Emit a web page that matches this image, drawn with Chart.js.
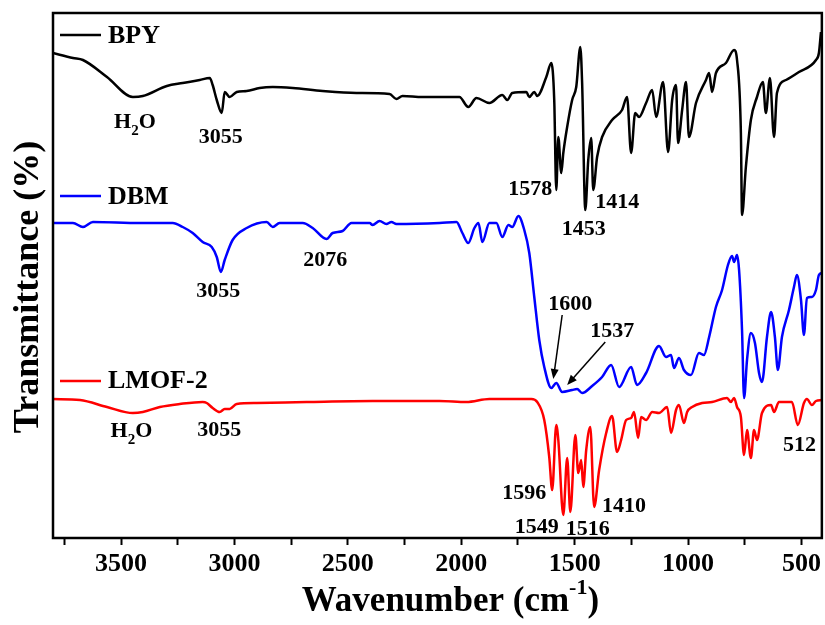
<!DOCTYPE html>
<html>
<head>
<meta charset="utf-8">
<script src="https://cdn.jsdelivr.net/npm/chart.js@4.4.1/dist/chart.umd.min.js"></script>
<style>
  html, body { margin: 0; padding: 0; background: #fff; }
</style>
</head>
<body>
<canvas id="ftirChart" width="825" height="625"></canvas>
<script>
// wavenumber (cm-1) and offset transmittance (arb. units)
const bpyWn = [3800,3712,3668,3562,3448,3404,3298,3228,3153,3109,3096,3078,3056,3043,3021,2990,2946,2889,2831,2743,
  2611,2462,2316,2286,2259,2171,2096,2008,1969,1933,1876,1819,1797,1775,1713,1700,1678,1665,1625,1603,
  1590,1581,1572,1559,1550,1533,1511,1493,1475,1467,1453,1440,1427,1418,1401,1379,1335,1291,1269,1251,
  1233,1216,1185,1158,1141,1110,1088,1070,1053,1044,1026,1009,996,965,921,907,894,877,833,797,
  784,767,762,745,723,696,670,657,639,621,608,568,511,436,423,414];
const bpyT = [485,480,478,461,441,442,452,455,458,460,453,438,425,446,441,446,447,450,451,450,
  447,445,444,439,442,441,441,441,431,440,435,443,438,445,446,441,446,442,461,475,
  438,348,401,365,385,411,438,451,491,455,328,378,400,348,381,401,418,428,441,385,
  425,421,435,448,421,456,386,438,453,395,428,456,401,435,458,465,446,465,475,488,
  478,405,323,371,418,441,456,425,460,401,445,458,466,478,485,506];

const dbmWn = [3800,3712,3668,3624,3417,3272,3228,3184,3140,3100,3078,3060,3043,3008,2946,2858,2831,2801,2699,2655,
  2594,2567,2523,2484,2404,2391,2360,2330,2308,2286,2096,2021,1995,1969,1942,1924,1907,1876,1845,1819,
  1792,1775,1748,1722,1700,1678,1656,1634,1603,1581,1555,1511,1489,1467,1423,1379,1339,1304,1251,1225,
  1185,1128,1097,1075,1062,1040,1018,987,952,930,907,877,850,824,806,797,784,775,762,753,
  740,723,705,687,674,652,634,617,604,586,555,533,520,502,489,476,454,436,423,410];
const dbmT = [315,315,311,316,315,315,311,305,296,291,281,266,278,298,310,316,311,315,315,310,
  299,305,307,315,315,313,317,314,316,314,315,316,305,295,310,315,296,315,315,301,
  313,311,322,308,285,241,198,171,150,155,146,148,149,145,152,161,173,151,171,153,
  165,192,181,183,170,180,168,163,185,183,201,231,248,273,282,276,283,268,208,140,
  178,205,195,165,156,201,226,201,168,201,228,251,263,238,203,240,241,248,263,265];

const lmofWn = [3800,3681,3562,3448,3404,3329,3241,3140,3122,3096,3065,3043,3021,2990,2902,2682,2391,2096,1977,1876,
  1691,1665,1634,1612,1599,1581,1572,1550,1533,1519,1497,1484,1471,1462,1449,1431,1414,1392,1361,1335,
  1313,1295,1273,1251,1238,1220,1207,1185,1158,1128,1092,1075,1053,1040,1018,1004,982,938,894,828,
  811,797,784,767,753,740,723,709,696,674,634,621,599,542,516,489,476,454,436,410];
const lmofT = [139,138,131,125,126,131,134,136,135,130,126,129,129,134,135,136,137,137,136,139,
  139,136,118,81,48,113,98,23,80,26,103,65,78,51,88,111,31,68,105,122,
  86,98,118,120,126,100,121,118,126,125,131,105,128,133,115,126,131,135,136,140,
  136,140,131,121,83,108,80,108,98,125,133,126,136,136,113,135,139,133,137,138];

const seriesNames = ['BPY', 'DBM', 'LMOF-2'];
const seriesColors = ['#000000', '#0000ff', '#ff0000'];

// peak labels: text, anchor wavenumber, baseline value
const peakText = ['H|2|O', '3055', '1578', '1414', '1453',
                  '3055', '2076', '1600', '1537',
                  'H|2|O', '3055', '1596', '1549', '1516', '1410', '512'];
const peakWn = [3439, 3060, 1696, 1312, 1460, 3071, 2600, 1519, 1334, 3454, 3067, 1722, 1667, 1442, 1282, 509];
const peakY  = [410, 395, 343, 330, 303, 241, 272, 228, 201, 101, 102, 39, 5, 3, 26, 87];

// arrows on the DBM curve: [fromWn, fromY, toWn, toY]
const arrows = [[1555, 223, 1594, 159], [1365, 196, 1533, 153]];

// legend rows sit next to each curve (line y, text baseline y)
const legendLineY = [503, 342, 157];
const legendTextY = [495, 334, 150];

const serif = '"Liberation Serif", "Times New Roman", serif';
Chart.defaults.font.family = serif;
Chart.defaults.color = '#000';

function toPoints(xs, ys) {
  return xs.map((x, i) => ({ x: x, y: ys[i] }));
}

function drawRich(ctx, text, cx, by, size) {
  // "H|2|O" -> middle piece drawn as subscript
  const parts = text.split('|');
  const pieces = parts.map((t, i) => ({ t: t, sub: parts.length === 3 && i === 1 }));
  let total = 0;
  pieces.forEach(p => {
    ctx.font = 'bold ' + (p.sub ? Math.round(size * 0.7) : size) + 'px ' + serif;
    p.w = ctx.measureText(p.t).width;
    total += p.w;
  });
  let x = cx - total / 2;
  pieces.forEach(p => {
    ctx.font = 'bold ' + (p.sub ? Math.round(size * 0.7) : size) + 'px ' + serif;
    ctx.fillText(p.t, x, p.sub ? by + size * 0.3 : by);
    x += p.w;
  });
}

const decorPlugin = {
  id: 'decor',
  afterDatasetsDraw(chart) {
    const { ctx, chartArea } = chart;
    const xs = chart.scales.x, ys = chart.scales.y;
    ctx.save();

    // frame
    ctx.strokeStyle = '#000';
    ctx.lineWidth = 2.5;
    ctx.strokeRect(chartArea.left, chartArea.top, chartArea.right - chartArea.left, chartArea.bottom - chartArea.top);

    ctx.fillStyle = '#000';
    ctx.textBaseline = 'alphabetic';
    ctx.textAlign = 'left';

    // peak labels
    peakText.forEach((t, i) => {
      drawRich(ctx, t, xs.getPixelForValue(peakWn[i]), ys.getPixelForValue(peakY[i]), 22);
    });

    // arrows
    ctx.lineWidth = 1.5;
    arrows.forEach(a => {
      const x1 = xs.getPixelForValue(a[0]), y1 = ys.getPixelForValue(a[1]);
      const x2 = xs.getPixelForValue(a[2]), y2 = ys.getPixelForValue(a[3]);
      const ang = Math.atan2(y2 - y1, x2 - x1);
      ctx.beginPath();
      ctx.moveTo(x1, y1);
      ctx.lineTo(x2 - 6 * Math.cos(ang), y2 - 6 * Math.sin(ang));
      ctx.stroke();
      ctx.beginPath();
      ctx.moveTo(x2, y2);
      ctx.lineTo(x2 - 10 * Math.cos(ang) + 4 * Math.sin(ang), y2 - 10 * Math.sin(ang) - 4 * Math.cos(ang));
      ctx.lineTo(x2 - 10 * Math.cos(ang) - 4 * Math.sin(ang), y2 - 10 * Math.sin(ang) + 4 * Math.cos(ang));
      ctx.closePath();
      ctx.fill();
    });

    // legend entries
    seriesNames.forEach((name, i) => {
      const ly = ys.getPixelForValue(legendLineY[i]);
      ctx.strokeStyle = seriesColors[i];
      ctx.lineWidth = 2.5;
      ctx.beginPath();
      ctx.moveTo(chartArea.left + 7, ly);
      ctx.lineTo(chartArea.left + 48, ly);
      ctx.stroke();
      ctx.fillStyle = '#000';
      ctx.font = 'bold 26px ' + serif;
      ctx.fillText(name, chartArea.left + 55, ys.getPixelForValue(legendTextY[i]));
    });

    // y axis title, a little below the middle as in the figure
    ctx.save();
    ctx.translate(29, 287);
    ctx.rotate(-Math.PI / 2);
    ctx.font = 'bold 36px ' + serif;
    ctx.textAlign = 'center';
    ctx.textBaseline = 'middle';
    ctx.fillText('Transmittance (%)', 0, 0);
    ctx.restore();

    // x axis title with superscript
    const cx = (chartArea.left + chartArea.right) / 2 + 13;
    const base = 611;
    ctx.font = 'bold 35px ' + serif;
    const mainTxt = 'Wavenumber (cm';
    const w1 = ctx.measureText(mainTxt).width;
    const w3 = ctx.measureText(')').width;
    ctx.font = 'bold 22px ' + serif;
    const w2 = ctx.measureText('-1').width;
    let x = cx - (w1 + w2 + w3) / 2;
    ctx.font = 'bold 35px ' + serif;
    ctx.fillText(mainTxt, x, base);
    x += w1;
    ctx.font = 'bold 22px ' + serif;
    ctx.fillText('-1', x, base - 17);
    x += w2;
    ctx.font = 'bold 35px ' + serif;
    ctx.fillText(')', x, base);

    ctx.restore();
  }
};

const ctx = document.getElementById('ftirChart').getContext('2d');
new Chart(ctx, {
  type: 'line',
  data: {
    datasets: [
      { label: seriesNames[0], data: toPoints(bpyWn, bpyT), borderColor: seriesColors[0] },
      { label: seriesNames[1], data: toPoints(dbmWn, dbmT), borderColor: seriesColors[1] },
      { label: seriesNames[2], data: toPoints(lmofWn, lmofT), borderColor: seriesColors[2] }
    ]
  },
  options: {
    responsive: false,
    animation: false,
    layout: { padding: { top: 13, right: 2, left: 0, bottom: 0 } },
    elements: {
      point: { radius: 0 },
      line: { borderWidth: 2.5, cubicInterpolationMode: 'monotone', fill: false }
    },
    plugins: {
      legend: { display: false },
      tooltip: { enabled: false }
    },
    scales: {
      x: {
        type: 'linear',
        reverse: true,
        min: 410,
        max: 3800,
        border: { display: false },
        grid: { drawOnChartArea: false, tickLength: 7, tickWidth: 2, color: '#000' },
        ticks: {
          stepSize: 250,
          maxTicksLimit: 20,
          autoSkip: false,
          includeBounds: false,
          maxRotation: 0,
          padding: 4,
          color: '#000',
          font: { size: 26, weight: 'bold' },
          callback: v => (v % 500 === 0 ? v : '')
        },
        afterFit: s => { s.height = 87; }
      },
      y: {
        min: 0,
        max: 525,
        border: { display: false },
        grid: { display: false },
        ticks: { display: false },
        title: { display: false, text: 'Transmittance (%)' },
        afterFit: s => { s.width = 53; }
      }
    }
  },
  plugins: [decorPlugin]
});
</script>
</body>
</html>
